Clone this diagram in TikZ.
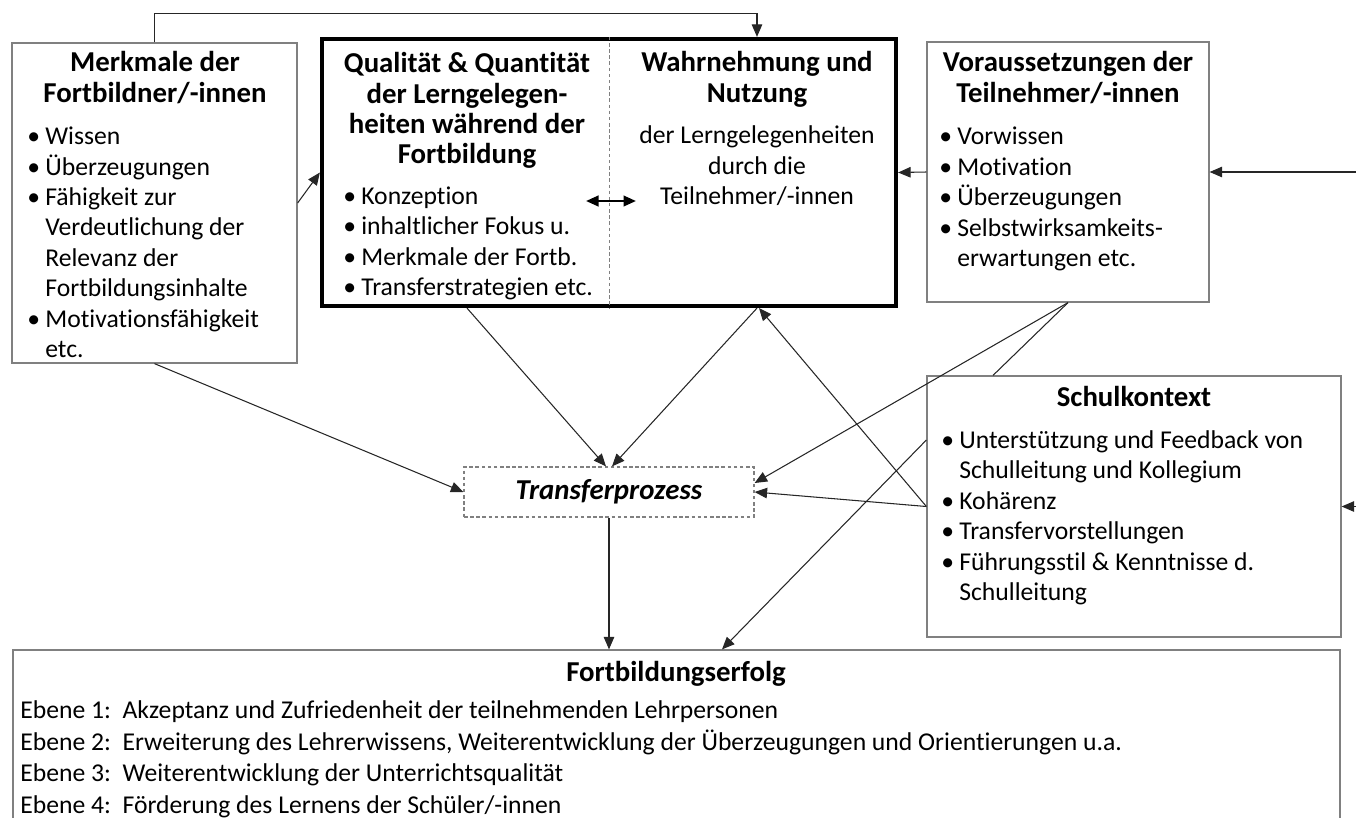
\documentclass[tikz,border=0pt]{standalone}
\usepackage{fontspec}
\setmainfont{Carlito}[Ligatures=NoCommon]
\usetikzlibrary{arrows.meta,positioning}

\newcommand{\kopffont}{\fontsize{16.4}{17.2}\selectfont\bfseries}
\newcommand{\inhaltfont}{\fontsize{14.6}{17.3}\selectfont}
\newcommand{\pkt}{\makebox[0.36cm][l]{\textbullet}}
\newcommand{\einr}{\hspace*{0.36cm}}

\begin{document}
\begin{tikzpicture}[
  box/.style={rectangle, draw=black!50, line width=0.7pt, inner sep=0pt},
  mainbox/.style={rectangle, draw=black, line width=2.4pt, inner sep=0pt},
  kopf/.style={font=\kopffont, align=center, inner sep=0pt, anchor=base},
  liste/.style={font=\inhaltfont, align=left, inner sep=0pt, anchor=base west},
  pfeil/.style={->, draw=black!85, line width=0.6pt},
  >={Triangle[length=0.25cm,width=0.21cm]},
]
  \useasboundingbox (0,0) rectangle (27.12,-16.36);
  \coordinate (rand) at (27.12,0);

  % Boxes
  \node[box, minimum width=5.70cm, minimum height=6.40cm] at (3.09,-4.06) (merkmale) {};
  \node[mainbox, minimum width=11.48cm, minimum height=5.34cm] at (12.18,-3.45) (lernangebot) {};
  \node[box, minimum width=5.64cm, minimum height=5.20cm] at (21.36,-3.44) (voraus) {};
  \node[box, minimum width=8.28cm, minimum height=5.22cm] at (22.68,-10.13) (schule) {};
  \node[box, dashed, dash pattern=on 2pt off 1.5pt, minimum width=5.80cm, minimum height=1.00cm,
        font=\fontsize{16.4}{17}\selectfont\bfseries\itshape] at (12.18,-9.84) (transfer) {Transferprozess};
  \node[box, minimum width=26.54cm, minimum height=3.60cm] at (13.53,-14.80) (erfolg) {};

  % divider in the main box
  \draw[black!50, line width=0.5pt, dash pattern=on 2pt off 1.5pt] (lernangebot.north) -- (lernangebot.south);

  % Texts: Merkmale (base = last line)
  \node[kopf] at (3.10,-2.04) (merkmalekopf) {Merkmale der\\Fortbildner/-innen};
  \node[liste] at (0.54,-7.15) (merkmaleliste) {\pkt Wissen\\\pkt Überzeugungen\\\pkt Fähigkeit zur\\
    \einr Verdeutlichung der\\\einr Relevanz der\\\einr Fortbildungsinhalte\\\pkt Motivationsfähigkeit\\\einr etc.};

  % Texts: Qualitaet / Wahrnehmung
  \node[kopf] at (9.34,-3.27) (qualkopf) {Qualität \& Quantität\\der Lerngelegen-\\heiten während der\\Fortbildung};
  \node[liste] at (6.86,-5.91) (qualliste) {\pkt Konzeption\\\pkt inhaltlicher Fokus u.\\\pkt Merkmale der Fortb.\\\pkt Transferstrategien etc.};
  \node[kopf] at (15.14,-2.04) (nutzkopf) {Wahrnehmung und\\Nutzung};
  \node[font=\inhaltfont, align=center, inner sep=0pt, anchor=base] at (15.14,-4.09) (nutztext)
    {der Lerngelegenheiten\\durch die\\Teilnehmer/-innen};

  % Texts: Voraussetzungen
  \node[kopf] at (21.36,-2.04) (vorauskopf) {Voraussetzungen der\\Teilnehmer/-innen};
  \node[liste] at (18.78,-5.33) (vorausliste) {\pkt Vorwissen\\\pkt Motivation\\\pkt Überzeugungen\\
    \pkt Selbstwirksamkeits-\\\einr erwartungen etc.};

  % Texts: Schulkontext
  \node[kopf] at (22.68,-8.13) (schulkopf) {Schulkontext};
  \node[liste] at (18.82,-12.01) (schulliste) {\pkt Unterstützung und Feedback von\\\einr Schulleitung und Kollegium\\
    \pkt Kohärenz\\\pkt Transfervorstellungen\\\pkt Führungsstil \& Kenntnisse d.\\\einr Schulleitung};

  % Texts: Fortbildungserfolg
  \node[kopf] at (13.52,-13.63) (erfolgkopf) {Fortbildungserfolg};
  \node[liste, font=\fontsize{14.6}{18}\selectfont] at (0.40,-16.27) (erfolgliste)
    {Ebene 1:\ \ Akzeptanz und Zufriedenheit der teilnehmenden Lehrpersonen\\
     Ebene 2:\ \ Erweiterung des Lehrerwissens, Weiterentwicklung der Überzeugungen und Orientierungen u.a.\\
     Ebene 3:\ \ Weiterentwicklung der Unterrichtsqualität\\
     Ebene 4:\ \ Förderung des Lernens der Schüler/-innen};

  % double arrow between the two columns
  \coordinate (wechsel1) at (11.72,-4.02);
  \coordinate (wechsel2) at (12.72,-4.02);
  \draw[<->, line width=1.4pt] (wechsel1) -- (wechsel2);

  % Connectors
  \draw[pfeil] (merkmale.north) -- ++(0,0.58) -| (lernangebot.north -| nutzkopf);
  \draw[pfeil] (merkmale.east) -- (lernangebot.west);
  \draw[pfeil] (voraus.west) -- (lernangebot.east);
  \draw[pfeil] (voraus.east -| rand) -- (voraus.east);
  \draw[pfeil] (schule.east -| rand) -- (schule.east);
  \draw[pfeil] (merkmale.south) -- (transfer.west);
  \draw[pfeil] (lernangebot.south -| qualkopf) -- ([xshift=-0.06cm]transfer.north);
  \draw[pfeil] (lernangebot.south -| nutzkopf) -- ([xshift=0.06cm]transfer.north);
  \draw[pfeil] (schule.west) -- ([xshift=0.04cm]lernangebot.south -| nutzkopf);
  \draw[pfeil] (schule.west) -- (transfer.east);
  \draw[pfeil] (voraus.south) -- ([yshift=0.18cm]transfer.east);
  \draw[draw=black!85, line width=0.6pt] (voraus.south) -- ([xshift=-2.82cm]schule.north);
  \draw[pfeil] ([yshift=1.33cm]schule.west) -- ([xshift=0.91cm]erfolg.north);
  \draw[pfeil] (transfer.south) -- (transfer.south |- erfolg.north);
\end{tikzpicture}
\end{document}
